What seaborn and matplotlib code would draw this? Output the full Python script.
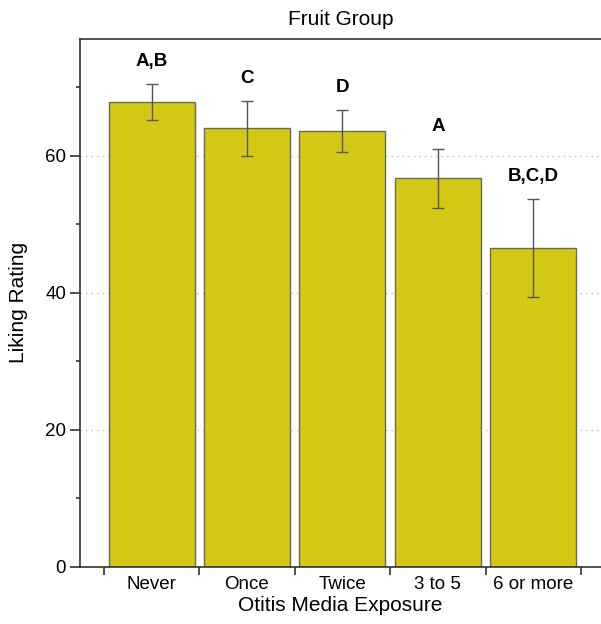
import numpy as np
import pandas as pd
import seaborn as sns
import matplotlib.pyplot as plt
from matplotlib.ticker import FixedLocator

# Data
exposure = ["Never", "Once", "Twice", "3 to 5", "6 or more"]
liking = [67.8, 64.0, 63.6, 56.7, 46.5]
err = [2.65, 4.0, 3.05, 4.3, 7.2]
letters = ["A,B", "C", "D", "A", "B,C,D"]

df = pd.DataFrame({"Exposure": exposure, "Liking": liking})

sns.set_style("white")
plt.rcParams["font.family"] = ["Liberation Sans", "DejaVu Sans"]
plt.rcParams["text.color"] = "black"
plt.rcParams["axes.labelcolor"] = "black"
plt.rcParams["xtick.color"] = "black"
plt.rcParams["ytick.color"] = "black"

fig = plt.figure(figsize=(6.01, 6.24), dpi=100)
ax = fig.add_axes([80 / 601, 57.3 / 624, 521 / 601, 527.7 / 624])

# dotted grid behind the bars
for g in [20, 40, 60]:
    ax.axhline(g, color="#bbbbbb", linestyle=(0, (1, 3)), linewidth=1, zorder=0)

sns.barplot(data=df, x="Exposure", y="Liking", color="#d3c914", width=0.9,
            edgecolor="#6a6a5a", linewidth=1.0, saturation=1, ax=ax, zorder=2)

ax.errorbar(range(len(exposure)), liking, yerr=err, fmt="none",
            ecolor="#555555", elinewidth=1, capsize=4, capthick=1, zorder=3)

for i, (m, e, lab) in enumerate(zip(liking, err, letters)):
    ax.annotate(lab, xy=(i, m + e), xytext=(0, 10), textcoords="offset points",
                ha="center", va="bottom", fontsize=13.5, fontweight="bold")

ax.set_xlim(-0.75, 4.71)
ax.set_ylim(0, 77)

# y axis ticks
ax.set_yticks([0, 20, 40, 60])
ax.yaxis.set_minor_locator(FixedLocator([10, 30, 50, 70]))
ax.tick_params(axis="y", which="major", direction="out", length=7, width=1.2,
               color="#333333", labelsize=13.5, pad=3, left=True)
ax.tick_params(axis="y", which="minor", direction="out", length=3, width=1.2,
               color="#333333", left=True)

# x axis: labels at bar centres, tick marks at category boundaries
ax.xaxis.set_minor_locator(FixedLocator(np.arange(-0.5, 5, 1.0)))
ax.tick_params(axis="x", which="major", length=0, labelsize=13.5, pad=7)
ax.tick_params(axis="x", which="minor", direction="out", length=6, width=1.2,
               color="#333333", bottom=True)

for s in ["left", "top", "bottom"]:
    ax.spines[s].set_visible(True)
    ax.spines[s].set_color("#333333")
    ax.spines[s].set_linewidth(1.2)
ax.spines["right"].set_visible(False)

ax.set_title("Fruit Group", fontsize=15, pad=10)
ax.set_xlabel("Otitis Media Exposure", fontsize=15, labelpad=2)
ax.set_ylabel("Liking Rating", fontsize=15, labelpad=12)

fig.savefig("out.png", dpi=100)
